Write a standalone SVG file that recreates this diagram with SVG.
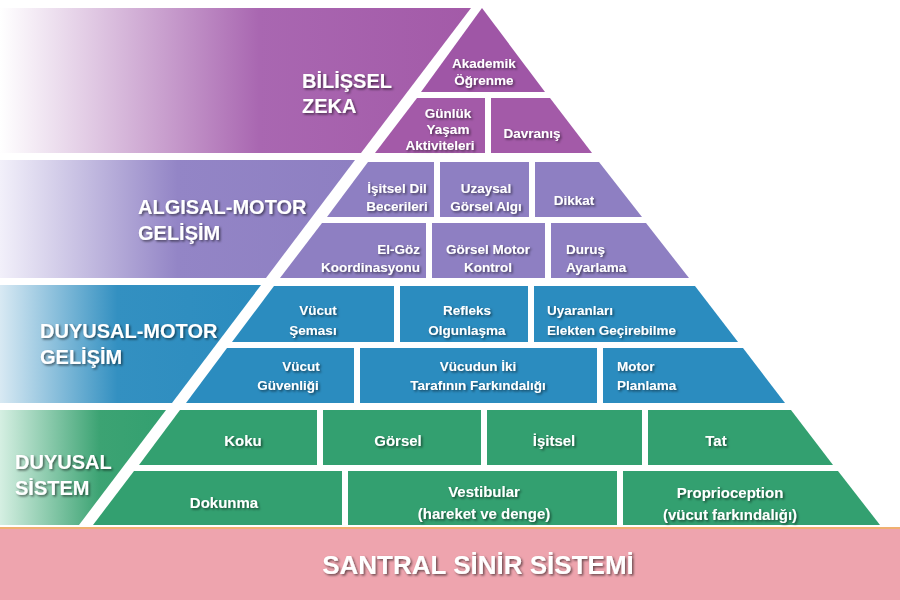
<svg xmlns="http://www.w3.org/2000/svg" width="900" height="600" viewBox="0 0 900 600">
<defs>
<linearGradient id="gP" x1="0" x2="1" y1="0" y2="0"><stop offset="0" stop-color="#ffffff"/><stop offset="0.55" stop-color="#a967b1"/><stop offset="1" stop-color="#a35aa8"/></linearGradient>
<linearGradient id="gL" x1="0" x2="1" y1="0" y2="0"><stop offset="0" stop-color="#f2f0fa"/><stop offset="0.5" stop-color="#9385c6"/><stop offset="1" stop-color="#8e7fc2"/></linearGradient>
<linearGradient id="gB" x1="0" x2="1" y1="0" y2="0"><stop offset="0" stop-color="#d8e9f3"/><stop offset="0.45" stop-color="#3390c1"/><stop offset="1" stop-color="#2b8cbf"/></linearGradient>
<linearGradient id="gG" x1="0" x2="1" y1="0" y2="0"><stop offset="0" stop-color="#d5efe2"/><stop offset="0.6" stop-color="#3ca373"/><stop offset="1" stop-color="#33a070"/></linearGradient>
<filter id="sh" x="-10%" y="-20%" width="130%" height="160%"><feDropShadow dx="1.5" dy="1.5" stdDeviation="1" flood-color="#000" flood-opacity="0.55"/></filter>
</defs>
<style>
text{font-family:"Liberation Sans",Arial,sans-serif;font-weight:bold;fill:#fff;text-anchor:middle;filter:url(#sh)}
.c{font-size:13.5px}
.m{font-size:15px}
.b{font-size:20px;text-anchor:start}
.s{stroke:#fff;stroke-width:6}
</style>
<rect width="900" height="600" fill="#fff"/>
<g id="bars">
<polygon points="0,8 471,8 361,153 0,153" fill="url(#gP)"/>
<polygon points="0,160 355,160 266,278 0,278" fill="url(#gL)"/>
<polygon points="0,285 261,285 172,403 0,403" fill="url(#gB)"/>
<polygon points="0,410 166,410 79,525 0,525" fill="url(#gG)"/>
</g>
<g id="base">
<rect x="0" y="527" width="900" height="73" fill="#eea4ae"/>
<line x1="0" y1="528" x2="900" y2="528" stroke="#f0b070" stroke-width="2"/>
<text x="478" y="574" style="font-size:26px">SANTRAL SİNİR SİSTEMİ</text>
</g>
<g id="rows">
<polygon points="482,8 545,92 421,92" fill="#9f56a6"/>
<polygon points="417,98 550,98 592,153 375,153" fill="#a35aa8"/>
<polygon points="368,162 599,162 642,217 327,217" fill="#8e7fc2"/>
<polygon points="322,223 646,223 689,278 280,278" fill="#8e7fc2"/>
<polygon points="274,286 695,286 738,342 232,342" fill="#2b8cbf"/>
<polygon points="227,348 743,348 785,403 186,403" fill="#2b8cbf"/>
<polygon points="180,410 791,410 833,465 139,465" fill="#33a070"/>
<polygon points="134,471 838,471 880,525 93,525" fill="#33a070"/>
</g>
<g id="connectors">
<line class="s" x1="488" y1="98" x2="488" y2="153"/>
<line class="s" x1="437" y1="162" x2="437" y2="217"/>
<line class="s" x1="532" y1="162" x2="532" y2="217"/>
<line class="s" x1="429" y1="223" x2="429" y2="278"/>
<line class="s" x1="548" y1="223" x2="548" y2="278"/>
<line class="s" x1="397" y1="286" x2="397" y2="342"/>
<line class="s" x1="531" y1="286" x2="531" y2="342"/>
<line class="s" x1="357" y1="348" x2="357" y2="403"/>
<line class="s" x1="600" y1="348" x2="600" y2="403"/>
<line class="s" x1="320" y1="410" x2="320" y2="465"/>
<line class="s" x1="484" y1="410" x2="484" y2="465"/>
<line class="s" x1="645" y1="410" x2="645" y2="465"/>
<line class="s" x1="345" y1="471" x2="345" y2="525"/>
<line class="s" x1="620" y1="471" x2="620" y2="525"/>
</g>
<g id="labels">
<text class="b" x="302" y="88">BİLİŞSEL</text><text class="b" x="302" y="113">ZEKA</text>
<text class="b" x="138" y="214">ALGISAL-MOTOR</text><text class="b" x="138" y="240">GELİŞİM</text>
<text class="b" x="40" y="338">DUYUSAL-MOTOR</text><text class="b" x="40" y="364">GELİŞİM</text>
<text class="b" x="15" y="469">DUYUSAL</text><text class="b" x="15" y="495">SİSTEM</text>
</g>
<g id="n-akademik"><text class="c" x="484" y="68">Akademik</text><text class="c" x="484" y="85">Öğrenme</text></g>
<g id="n-gunluk"><text class="c" x="448" y="118">Günlük</text><text class="c" x="448" y="134">Yaşam</text><text class="c" x="440" y="150">Aktiviteleri</text></g>
<g id="n-davranis"><text class="c" x="532" y="138">Davranış</text></g>
<g id="n-isitseldil"><text class="c" x="397" y="193">İşitsel Dil</text><text class="c" x="397" y="211">Becerileri</text></g>
<g id="n-uzaysal"><text class="c" x="486" y="193">Uzaysal</text><text class="c" x="486" y="211">Görsel Algı</text></g>
<g id="n-dikkat"><text class="c" x="574" y="205">Dikkat</text></g>
<g id="n-elgoz"><text class="c" x="420" y="254" style="text-anchor:end">El-Göz</text><text class="c" x="420" y="272" style="text-anchor:end">Koordinasyonu</text></g>
<g id="n-gorselmotor"><text class="c" x="488" y="254">Görsel Motor</text><text class="c" x="488" y="272">Kontrol</text></g>
<g id="n-durus"><text class="c" x="566" y="254" style="text-anchor:start">Duruş</text><text class="c" x="566" y="272" style="text-anchor:start">Ayarlama</text></g>
<g id="n-vucutsemasi"><text class="c" x="318" y="315">Vücut</text><text class="c" x="313" y="335">Şeması</text></g>
<g id="n-refleks"><text class="c" x="467" y="315">Refleks</text><text class="c" x="467" y="335">Olgunlaşma</text></g>
<g id="n-uyaranlari"><text class="c" x="547" y="315" style="text-anchor:start">Uyaranları</text><text class="c" x="547" y="335" style="text-anchor:start">Elekten Geçirebilme</text></g>
<g id="n-vucutguven"><text class="c" x="301" y="371">Vücut</text><text class="c" x="288" y="390">Güvenliği</text></g>
<g id="n-ikitaraf"><text class="c" x="478" y="371">Vücudun İki</text><text class="c" x="478" y="390">Tarafının Farkındalığı</text></g>
<g id="n-motorplan"><text class="c" x="617" y="371" style="text-anchor:start">Motor</text><text class="c" x="617" y="390" style="text-anchor:start">Planlama</text></g>
<g id="n-koku"><text class="m" x="243" y="446">Koku</text></g>
<g id="n-gorsel"><text class="m" x="398" y="446">Görsel</text></g>
<g id="n-isitsel"><text class="m" x="554" y="446">İşitsel</text></g>
<g id="n-tat"><text class="m" x="716" y="446">Tat</text></g>
<g id="n-dokunma"><text class="m" x="224" y="508">Dokunma</text></g>
<g id="n-vestibular"><text class="m" x="484" y="497">Vestibular</text><text class="m" x="484" y="519">(hareket ve denge)</text></g>
<g id="n-proprio"><text class="m" x="730" y="498">Proprioception</text><text class="m" x="730" y="520">(vücut farkındalığı)</text></g>
</svg>
